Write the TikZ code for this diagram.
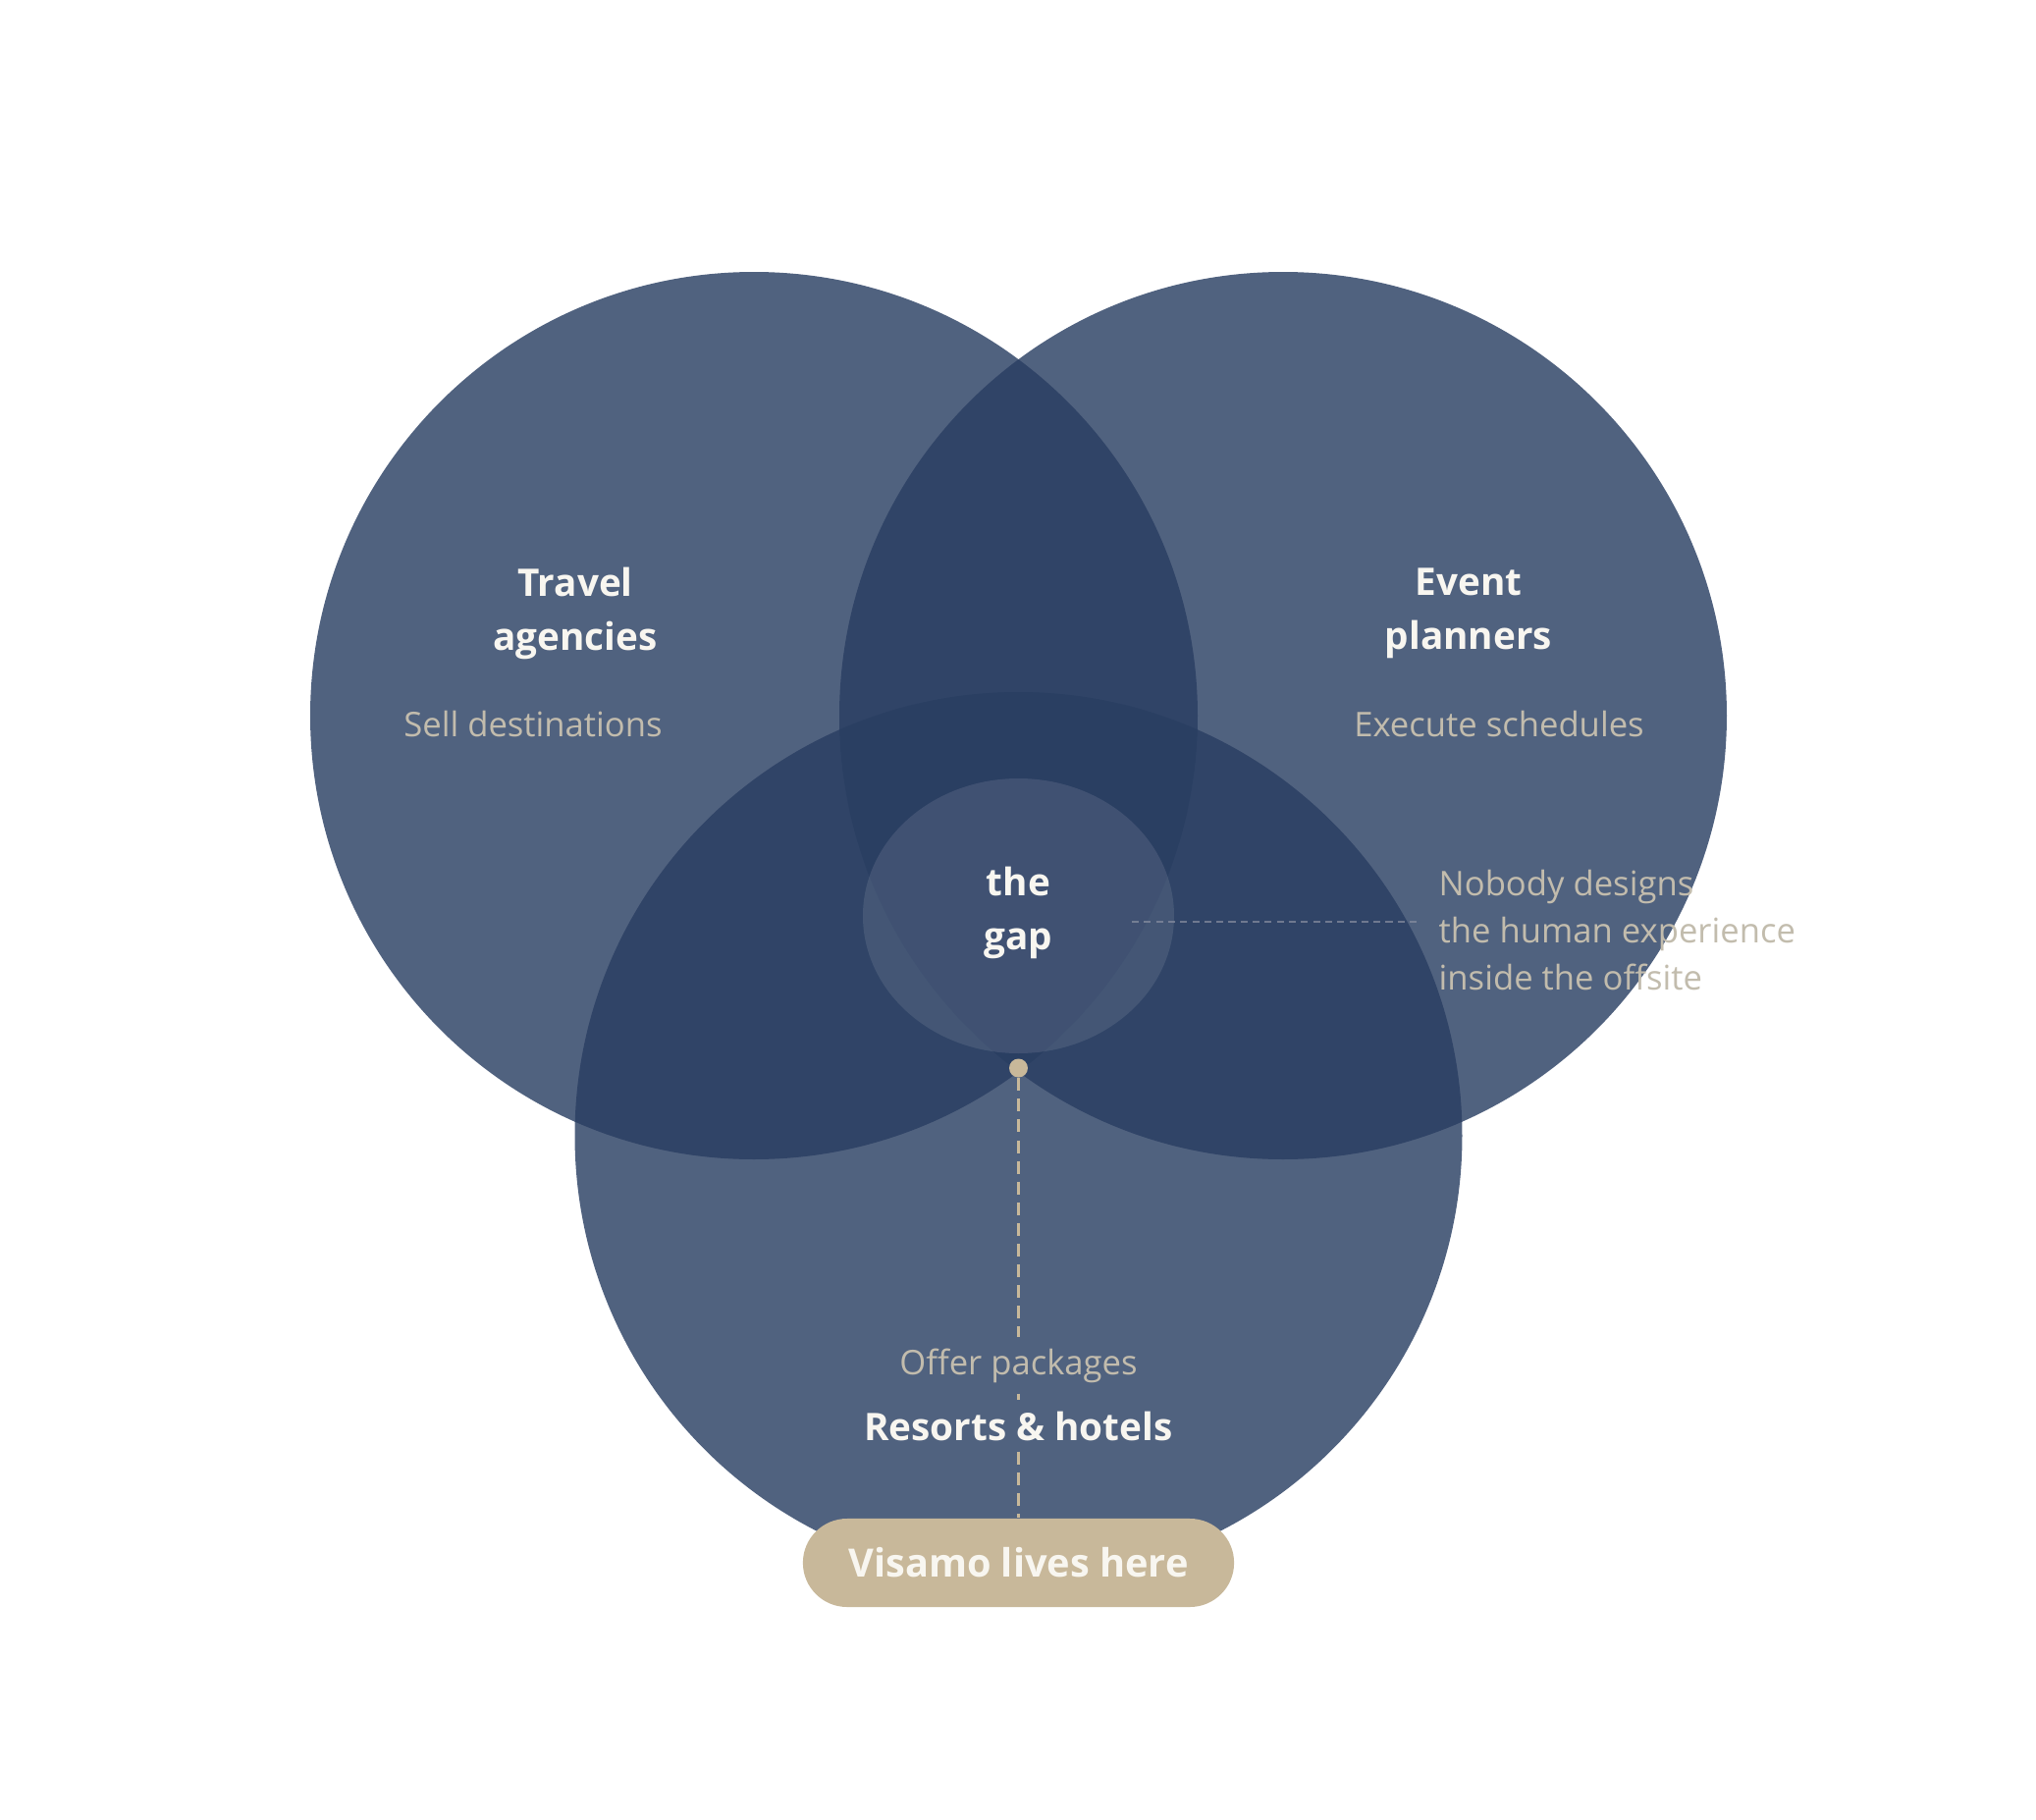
\documentclass[tikz,border=0pt]{standalone}
\usepackage{fontspec}
\setmainfont{Open Sans}
\usetikzlibrary{positioning}
\definecolor{navy}{HTML}{283D61}
\definecolor{sand}{HTML}{C8B89A}
\definecolor{mist}{HTML}{C2BCAD}
\definecolor{chalk}{HTML}{F8F6F0}
\definecolor{rulegray}{HTML}{8A90A2}

\begin{document}
\begin{tikzpicture}[x=0.01cm,y=-0.01cm,
  setfill/.style={fill=navy,fill opacity=0.81},
  head/.style={text=chalk,align=center,inner sep=0pt,
    font=\fontsize{11}{15.6}\selectfont\bfseries},
  note/.style={text=mist,inner sep=0pt,font=\fontsize{9.85}{13.65}\selectfont},
  gapline/.style={sand,line width=0.6pt,dash pattern=on 3.7pt off 2.3pt},
  guide/.style={rulegray,line width=0.45pt,opacity=0.7,
    dash pattern=on 2pt off 1.5pt,shorten >=5pt}]
  \useasboundingbox (0,0) rectangle (2074,1854);

  % the three sets
  \fill[setfill] (768,729) circle (452);
  \fill[setfill] (1307,729) circle (452);
  \fill[setfill] (1037.5,1157) circle (452);
  \fill[white,fill opacity=0.1] (1037.5,933) ellipse [x radius=158.5, y radius=140];

  \node[head] (travel) at (586,625) {Travel\\agencies};
  \node[note,anchor=base] (sell) at (543,750) {Sell destinations};
  \node[head] (event) at (1496,625) {Event\\planners};
  \node[note,anchor=base] (exec) at (1527,750) {Execute schedules};
  \node[head] (gap) at (1037.5,930) {the\\gap};

  \node[note,align=left,anchor=north west] (nobody) at (1465,885)
    {Nobody designs\\the human experience\\inside the offsite};
  \coordinate (gapR) at (1153,939);
  \draw[guide] (gapR) -- (gapR -| nobody.west);

  \node[circle,fill=sand,minimum size=5.4pt,inner sep=0pt] (dot) at (1037.5,1088) {};
  \node[note,anchor=base,inner sep=3pt] (offer) at (1037.5,1400) {Offer packages};
  \node[head,anchor=base,inner sep=3pt] (resort) at (1037.5,1467) {Resorts \& hotels};
  \node[fill=sand,text=chalk,rounded corners=12.8pt,minimum width=124.9pt,
    minimum height=25.6pt,inner sep=0pt,font=\fontsize{11.3}{14}\selectfont\bfseries]
    (pill) at (1037.5,1592) {Visamo lives here};

  \draw[gapline] (dot) -- (offer);
  \draw[gapline] (offer) -- (resort);
  \draw[gapline] (resort) -- (pill);
\end{tikzpicture}
\end{document}
